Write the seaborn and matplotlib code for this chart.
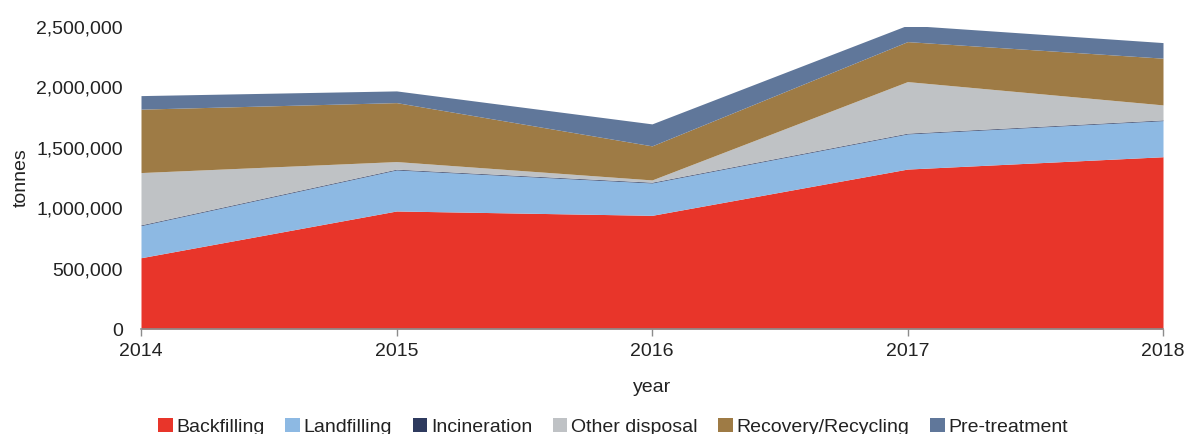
import matplotlib
matplotlib.use("Agg")
import matplotlib.pyplot as plt
import seaborn as sns
import pandas as pd
from matplotlib.ticker import FuncFormatter
from matplotlib.patches import Patch

years = [2014, 2015, 2016, 2017, 2018]
categories = ["Backfilling", "Landfilling", "Incineration", "Other disposal",
              "Recovery/Recycling", "Pre-treatment"]
backfilling = [590000, 977000, 941000, 1324000, 1426000]
landfilling = [266000, 340000, 268000, 291000, 299000]
incineration = [6000, 6000, 6000, 6000, 6000]
other_disposal = [433000, 63000, 19000, 427000, 124000]
recovery = [525000, 488000, 282000, 331000, 387000]
pretreatment = [112000, 97000, 182000, 136000, 129000]
colors = ["#E8352A", "#8DB9E3", "#2E3A5E", "#BFC2C5", "#9E7B45", "#60779A"]

df = pd.DataFrame({"year": years, "Backfilling": backfilling, "Landfilling": landfilling,
                   "Incineration": incineration, "Other disposal": other_disposal,
                   "Recovery/Recycling": recovery, "Pre-treatment": pretreatment})

sns.set_theme(style="white")
plt.rcParams["font.family"] = ["Liberation Sans", "DejaVu Sans"]

fig = plt.figure(figsize=(11.87, 4.34), dpi=100)
ax = fig.add_axes([141/1187, 1-329/434, (1163-141)/1187, (329-27)/434])

ax.stackplot(df["year"], [df[c] for c in categories], colors=colors, linewidth=0)

ax.set_xlim(2014, 2018)
ax.set_ylim(0, 2500000)
ax.set_xticks(years)
ax.set_yticks([0, 500000, 1000000, 1500000, 2000000, 2500000])
ax.yaxis.set_major_formatter(FuncFormatter(lambda v, p: f"{int(v):,}"))
for s in ["top", "right", "left"]:
    ax.spines[s].set_visible(False)
ax.spines["bottom"].set_color("#8C8C8C")
ax.spines["bottom"].set_linewidth(1.2)
ax.tick_params(axis="x", direction="out", length=5, width=1, color="#8C8C8C",
               labelsize=14, labelcolor="#222222", pad=5, bottom=True)
ax.tick_params(axis="y", length=0, labelsize=14, labelcolor="#222222", pad=13)
ax.set_xlabel("year", fontsize=14, color="#222222", labelpad=14)
ax.set_ylabel("tonnes", fontsize=14, color="#222222", labelpad=5)

handles = [Patch(facecolor=c, edgecolor="none") for c in colors]
fig.legend(handles, categories, loc="center", bbox_to_anchor=(613/1187, 1-427/434),
           ncol=6, frameon=False, fontsize=14, handlelength=0.75, handleheight=0.75,
           handletextpad=0.2, columnspacing=1.05, labelcolor="#222222")

fig.savefig("out.png", dpi=100)
